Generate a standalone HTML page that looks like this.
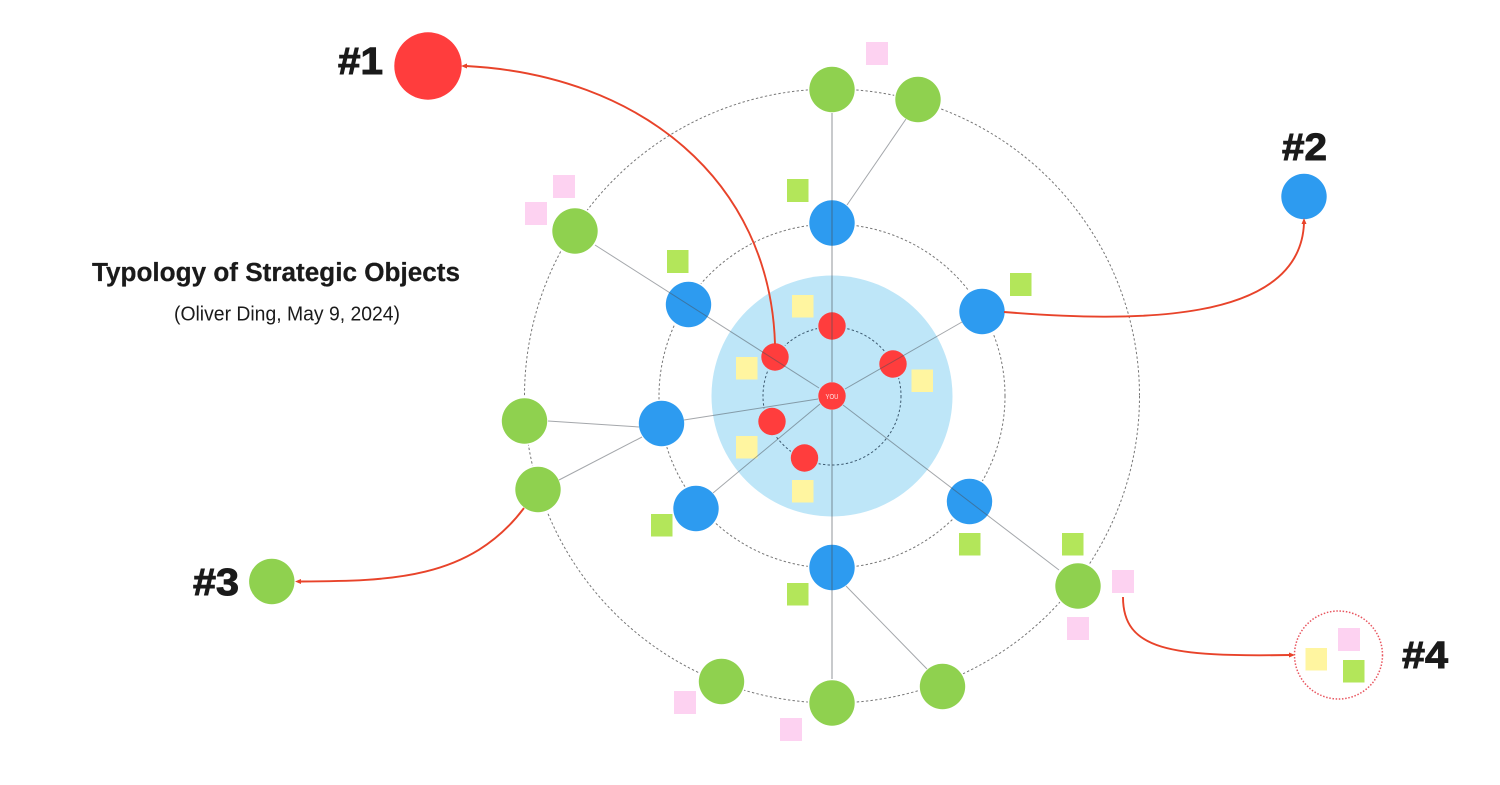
<!DOCTYPE html>
<html><head><meta charset="utf-8"><title>Typology of Strategic Objects</title>
<style>html,body{margin:0;padding:0;background:#fff;width:1500px;height:785px;overflow:hidden}svg{display:block}
text{font-family:"Liberation Sans",sans-serif;fill:#1a1a1a}
.h{font-weight:700;font-size:38px;stroke:#1a1a1a;stroke-width:1}
.ring{fill:none;stroke:#777;stroke-width:1;stroke-dasharray:2.4 2.2}
.l{stroke:#4a4f57;stroke-opacity:.5;stroke-width:1;fill:none}
.v{stroke:#4a4f57;stroke-opacity:.38;stroke-width:1.6;fill:none}
.a{fill:none;stroke:#e8432a;stroke-width:1.9}
.g{fill:#8fd14f;stroke:#fff;stroke-width:3;paint-order:stroke}
.b{fill:#2d9bf0;stroke:#fff;stroke-width:3;paint-order:stroke}
.r{fill:#ff3d3d;stroke:#bee6f8;stroke-width:3;paint-order:stroke}
.p{fill:#fdd2f1}.y{fill:#fff5a0}.s{fill:#b3e65a}
</style></head><body>
<svg width="1500" height="785" viewBox="0 0 1500 785" xmlns="http://www.w3.org/2000/svg">
<rect width="1500" height="785" fill="#fff"/>
<circle cx="832" cy="396" r="120.5" fill="#bee6f8"/>
<ellipse class="ring" cx="832" cy="396" rx="307.5" ry="307"/>
<ellipse class="ring" cx="832" cy="396" rx="173" ry="172"/>
<circle class="ring" cx="832" cy="396" r="69" style="stroke:#3d5a70"/>

<g id="stickies">
<rect class="p" x="866" y="42" width="22" height="23"/>
<rect class="p" x="553" y="175" width="22" height="23"/>
<rect class="p" x="525" y="202" width="22" height="23"/>
<rect class="p" x="1112" y="570" width="22" height="23"/>
<rect class="p" x="1067" y="617" width="22" height="23"/>
<rect class="p" x="674" y="691" width="22" height="23"/>
<rect class="p" x="780" y="718" width="22" height="23"/>
<rect class="p" x="1338" y="628" width="22" height="23"/>
<rect class="s" x="787" y="179" width="21.500" height="23"/>
<rect class="s" x="667" y="250" width="21.500" height="23"/>
<rect class="s" x="1010" y="273" width="21.500" height="23"/>
<rect class="s" x="959" y="533" width="21.500" height="22.500"/>
<rect class="s" x="1062" y="533" width="21.500" height="22.500"/>
<rect class="s" x="651" y="514" width="21.500" height="22.500"/>
<rect class="s" x="787" y="583" width="21.500" height="22.500"/>
<rect class="s" x="1343" y="660" width="21.500" height="22.500"/>
<rect class="y" x="792" y="295" width="21.500" height="22.500"/>
<rect class="y" x="736" y="357" width="21.500" height="22.500"/>
<rect class="y" x="911.500" y="369.500" width="21.500" height="22.500"/>
<rect class="y" x="736" y="436" width="21.500" height="22.500"/>
<rect class="y" x="792" y="480" width="21.500" height="22.500"/>
<rect class="y" x="1305.500" y="648" width="21.500" height="22.500"/>
</g>

<g id="nodes">
<circle class="g" cx="832" cy="89.500" r="22.700"/>
<circle class="g" cx="918" cy="99.500" r="22.700"/>
<circle class="g" cx="575" cy="231" r="22.700"/>
<circle class="g" cx="524.500" cy="421" r="22.700"/>
<circle class="g" cx="538" cy="489.500" r="22.700"/>
<circle class="g" cx="1078" cy="586" r="22.700"/>
<circle class="g" cx="721.500" cy="681.500" r="22.700"/>
<circle class="g" cx="832" cy="703" r="22.700"/>
<circle class="g" cx="942.500" cy="686.500" r="22.700"/>
<circle class="g" cx="271.800" cy="581.500" r="22.700"/>
<circle class="b" cx="832" cy="223" r="22.700"/>
<circle class="b" cx="688.500" cy="304.500" r="22.700"/>
<circle class="b" cx="982" cy="311.500" r="22.700"/>
<circle class="b" cx="661.500" cy="423.500" r="22.700"/>
<circle class="b" cx="696" cy="508.500" r="22.700"/>
<circle class="b" cx="969.500" cy="501.500" r="22.700"/>
<circle class="b" cx="832" cy="567.500" r="22.700"/>
<circle class="b" cx="1304" cy="196.500" r="22.700"/>
<circle class="r" cx="832" cy="326" r="13.700"/>
<circle class="r" cx="775" cy="357" r="13.700"/>
<circle class="r" cx="893" cy="364" r="13.700"/>
<circle class="r" cx="772" cy="421.500" r="13.700"/>
<circle class="r" cx="804.500" cy="458" r="13.700"/>
<circle class="r" cx="832" cy="396" r="13.700"/>
<circle cx="428" cy="66" r="33.700" fill="#ff3d3d"/>
</g>

<g id="links">
<path class="v" d="M832 113V382"/>
<path class="v" d="M832 410V679"/>
<path class="l" d="M819 388L595 245"/>
<path class="l" d="M845 389L962 322"/>
<path class="l" d="M818 399L684 420"/>
<path class="l" d="M820 404L713 493"/>
<path class="l" d="M843 405L1059 570"/>
<path class="l" d="M847 205L906 119"/>
<path class="l" d="M846 586L927 669"/>
<path class="l" d="M639 427L548 421"/>
<path class="l" d="M642 437L559 480"/>
</g>

<circle cx="1338.500" cy="655" r="44" fill="none" stroke="#e8555f" stroke-width="1.500" stroke-dasharray="1.500 1.700"/>

<g id="arrows">
<path class="a" d="M775 344C770 180 640 75 466 66"/>
<path d="M461 66L467 63.500V68.500Z" fill="#e8432a"/>
<path class="a" d="M1004 312C1130 322 1300 325 1304 223"/>
<path d="M1304 218L1306.500 224H1301.500Z" fill="#e8432a"/>
<path class="a" d="M524 508C470 580 390 581 300 581.500"/>
<path d="M295 581.500L301 579V584Z" fill="#e8432a"/>
<path class="a" d="M1123 597C1123 650 1170 657 1290 655"/>
<path d="M1295 655L1289 652.500V657.500Z" fill="#e8432a"/>
</g>

<text x="92" y="281" font-size="25.500" font-weight="700" stroke="#1a1a1a" stroke-width=".25" textLength="368" lengthAdjust="spacingAndGlyphs">Typology of Strategic Objects</text>
<text x="174" y="320.500" font-size="20" textLength="226" lengthAdjust="spacingAndGlyphs">(Oliver Ding, May 9, 2024)</text>
<text class="h" x="338" y="74" textLength="45" lengthAdjust="spacingAndGlyphs">#1</text>
<text class="h" x="1282" y="160" textLength="45" lengthAdjust="spacingAndGlyphs">#2</text>
<text class="h" x="193" y="595" textLength="46" lengthAdjust="spacingAndGlyphs">#3</text>
<text class="h" x="1402" y="668" textLength="46" lengthAdjust="spacingAndGlyphs">#4</text>
<text x="832" y="399" font-size="7.500" text-anchor="middle" textLength="13" lengthAdjust="spacingAndGlyphs" style="fill:#ffe3e3">YOU</text>
</svg>
</body></html>
